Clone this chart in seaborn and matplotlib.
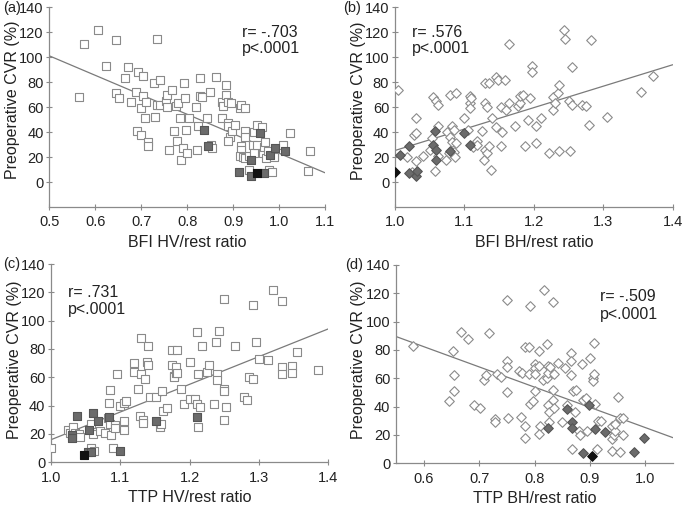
import matplotlib
matplotlib.use("Agg")
import matplotlib.pyplot as plt
import seaborn as sns
import pandas as pd

# panel (a): BFI HV/rest ratio vs preoperative CVR
a_open_x = [0.565, 0.575, 0.607, 0.623, 0.645, 0.645, 0.652, 0.665, 0.672, 0.688, 0.678, 0.693, 0.703,
            0.700, 0.705, 0.710, 0.708, 0.690, 0.700, 0.715, 0.715, 0.728, 0.735, 0.740, 0.735, 0.740,
            0.730, 0.755, 0.757, 0.757, 0.768, 0.775, 0.780, 0.772, 0.777, 0.760, 0.785, 0.787, 0.790,
            0.793, 0.795, 0.797, 0.800, 0.805, 0.820, 0.827, 0.828, 0.833, 0.823, 0.822, 0.843, 0.850,
            0.853, 0.855, 0.862, 0.875, 0.878, 0.885, 0.885, 0.890, 0.895, 0.875, 0.890, 0.890, 0.893,
            0.890, 0.897, 0.905, 0.915, 0.918, 0.925, 0.925, 0.925, 0.918, 0.918, 0.915, 0.922, 0.925,
            0.935, 0.935, 0.945, 0.943, 0.945, 0.953, 0.953, 0.963, 0.965, 0.968, 0.970, 0.972, 0.975,
            0.978, 0.985, 0.988, 0.990, 1.008, 1.023, 1.063, 1.068]
a_open_y = [68, 111, 122, 93, 114, 71, 67, 83, 92, 72, 64, 88, 85,
            59, 69, 64, 51, 41, 38, 32, 29, 79, 115, 82, 62, 62,
            52, 65, 60, 70, 74, 61, 63, 41, 33, 26, 51, 18, 27,
            79, 67, 42, 23, 51, 60, 83, 69, 68, 45, 26, 51, 72,
            30, 27, 84, 64, 61, 78, 70, 64, 63, 51, 47, 45, 36,
            33, 41, 46, 59, 62, 59, 41, 36, 29, 26, 21, 20, 19,
            21, 10, 40, 30, 23, 46, 30, 44, 23, 28, 32, 19, 25,
            10, 8, 21, 20, 30, 39, 9, 25]
a_gray_x = [0.837, 0.845, 0.913, 0.940, 0.940, 0.958, 0.967, 0.980, 0.992, 1.012]
a_gray_y = [42, 29, 8, 18, 5, 39, 7, 22, 27, 25]
a_black_x = [0.952]
a_black_y = [7]

# panel (b): BFI BH/rest ratio
b_open_x = [1.005, 1.018, 1.025, 1.028, 1.030, 1.030, 1.030, 1.040, 1.053, 1.055, 1.050, 1.058, 1.060,
            1.062, 1.062, 1.062, 1.075, 1.078, 1.073, 1.080, 1.080, 1.082, 1.083, 1.085, 1.088, 1.088,
            1.087, 1.085, 1.100, 1.105, 1.108, 1.108, 1.108, 1.110, 1.113, 1.118, 1.118, 1.125, 1.130,
            1.130, 1.135, 1.133, 1.130, 1.132, 1.128, 1.135, 1.138, 1.140, 1.145, 1.148, 1.145, 1.153,
            1.155, 1.153, 1.158, 1.160, 1.165, 1.165, 1.173, 1.178, 1.180, 1.180, 1.185, 1.188, 1.192,
            1.195, 1.198, 1.198, 1.203, 1.203, 1.210, 1.222, 1.228, 1.228, 1.230, 1.235, 1.237, 1.237,
            1.243, 1.245, 1.250, 1.255, 1.255, 1.252, 1.270, 1.275, 1.280, 1.283, 1.305, 1.355, 1.372]
b_open_y = [74, 20, 8, 38, 39, 51, 17, 21, 35, 68, 26, 9, 65,
            62, 45, 21, 40, 23, 18, 70, 36, 32, 45, 24, 71, 31,
            20, 42, 51, 42, 69, 63, 59, 67, 28, 33, 30, 41, 63,
            79, 79, 60, 26, 23, 18, 29, 10, 51, 84, 82, 44, 60,
            40, 29, 82, 58, 111, 63, 45, 61, 63, 69, 70, 29, 50,
            67, 93, 88, 45, 31, 51, 23, 68, 58, 63, 71, 78, 25,
            122, 115, 65, 92, 62, 25, 62, 61, 46, 114, 52, 72, 85]
b_gray_x = [1.008, 1.020, 1.020, 1.030, 1.032, 1.055, 1.058, 1.060, 1.060, 1.080, 1.100, 1.108]
b_gray_y = [22, 29, 7, 5, 9, 30, 41, 26, 18, 25, 39, 30]
b_black_x = [1.000]
b_black_y = [8]

# panel (c): TTP HV/rest ratio
c_open_x = [1.000, 1.025, 1.028, 1.032, 1.035, 1.040, 1.042, 1.058, 1.060, 1.058, 1.062, 1.070, 1.078,
            1.082, 1.083, 1.085, 1.085, 1.087, 1.090, 1.092, 1.093, 1.095, 1.100, 1.105, 1.108, 1.105,
            1.105, 1.120, 1.120, 1.125, 1.128, 1.130, 1.130, 1.132, 1.132, 1.135, 1.138, 1.140, 1.140,
            1.143, 1.152, 1.157, 1.158, 1.160, 1.162, 1.168, 1.175, 1.175, 1.177, 1.178, 1.180, 1.180,
            1.182, 1.182, 1.188, 1.192, 1.200, 1.200, 1.208, 1.210, 1.210, 1.212, 1.212, 1.215, 1.218,
            1.225, 1.228, 1.235, 1.238, 1.240, 1.240, 1.242, 1.250, 1.250, 1.250, 1.250, 1.253, 1.265,
            1.278, 1.283, 1.285, 1.292, 1.292, 1.295, 1.300, 1.313, 1.320, 1.333, 1.333, 1.333, 1.348,
            1.348, 1.355, 1.385]
c_open_y = [10, 23, 21, 25, 21, 20, 18, 27, 20, 10, 8, 22, 21,
            31, 42, 27, 51, 19, 10, 26, 24, 62, 40, 42, 43, 29,
            23, 70, 64, 52, 33, 88, 62, 30, 28, 59, 71, 69, 82,
            46, 46, 25, 27, 50, 36, 38, 79, 69, 61, 60, 63, 67,
            79, 63, 52, 41, 71, 45, 45, 92, 41, 62, 25, 39, 82,
            64, 69, 41, 85, 62, 58, 93, 115, 52, 50, 30, 39, 82,
            46, 44, 60, 111, 59, 85, 73, 72, 122, 114, 67, 62, 68,
            63, 78, 65]
c_gray_x = [1.030, 1.030, 1.038, 1.055, 1.060, 1.068, 1.083, 1.053, 1.058, 1.100, 1.152, 1.210]
c_gray_y = [19, 17, 33, 23, 35, 29, 32, 7, 7, 8, 29, 32]
c_black_x = [1.048]
c_black_y = [5]

# panel (d): TTP BH/rest ratio
d_open_x = [0.580, 0.645, 0.653, 0.655, 0.655, 0.667, 0.680, 0.690, 0.702, 0.708, 0.713, 0.718, 0.728,
            0.728, 0.733, 0.740, 0.750, 0.750, 0.750, 0.750, 0.752, 0.772, 0.775, 0.778, 0.782, 0.782,
            0.783, 0.790, 0.790, 0.792, 0.792, 0.797, 0.800, 0.800, 0.800, 0.800, 0.808, 0.808, 0.810,
            0.808, 0.815, 0.818, 0.822, 0.823, 0.825, 0.825, 0.825, 0.827, 0.827, 0.828, 0.833, 0.835,
            0.833, 0.833, 0.835, 0.842, 0.850, 0.855, 0.858, 0.865, 0.865, 0.865, 0.870, 0.873, 0.875,
            0.867, 0.880, 0.882, 0.885, 0.888, 0.893, 0.895, 0.900, 0.905, 0.905, 0.907, 0.908, 0.910,
            0.912, 0.915, 0.920, 0.940, 0.940, 0.940, 0.943, 0.945, 0.945, 0.950, 0.955, 0.955, 0.960,
            0.960]
d_open_y = [83, 44, 79, 62, 51, 93, 88, 41, 39, 59, 62, 92, 31,
            29, 63, 61, 115, 72, 68, 50, 32, 65, 33, 64, 82, 26,
            18, 82, 63, 111, 42, 44, 70, 67, 63, 51, 79, 69, 26,
            21, 59, 122, 60, 84, 69, 64, 41, 36, 29, 68, 114, 63,
            52, 45, 39, 71, 29, 67, 41, 78, 72, 62, 51, 36, 52,
            10, 23, 20, 70, 45, 46, 23, 74, 60, 58, 85, 63, 42,
            10, 30, 30, 26, 17, 9, 20, 23, 28, 47, 32, 8, 32,
            20]
d_gray_x = [0.825, 0.858, 0.868, 0.867, 0.888, 0.898, 0.910, 0.928, 0.980, 0.998]
d_gray_y = [25, 38, 29, 25, 7, 41, 24, 22, 8, 18]
d_black_x = [0.903]
d_black_y = [5]

panel_tags = ["(a)", "(b)", "(c)", "(d)"]
x_labels = ["BFI HV/rest ratio", "BFI BH/rest ratio", "TTP HV/rest ratio", "TTP BH/rest ratio"]
r_texts = ["r= -.703", "r= .576", "r= .731", "r= -.509"]
p_text = "p<.0001"

sns.set_style("ticks")
plt.rcParams["font.family"] = ["Liberation Sans", "DejaVu Sans"]

GRAY = "#8a8a8a"

fig = plt.figure(figsize=(6.83, 5.05), dpi=100)

panels = [
    dict(rect=[0.0722, 0.590, 0.4036, 0.3955], xlim=(0.5, 1.1), ylim=(-20, 140),
         xticks=[0.5, 0.6, 0.7, 0.8, 0.9, 1.0, 1.1], marker="s",
         open=(a_open_x, a_open_y), gray=(a_gray_x, a_gray_y), black=(a_black_x, a_black_y),
         txt=(0.919, 120, 107), tag=(3, 8), ylab=(-0.105, 0.535)),
    dict(rect=[0.578, 0.590, 0.407, 0.3955], xlim=(1.0, 1.4), ylim=(-20, 140),
         xticks=[1.0, 1.1, 1.2, 1.3, 1.4], marker="D",
         open=(b_open_x, b_open_y), gray=(b_gray_x, b_gray_y), black=(b_black_x, b_black_y),
         txt=(1.025, 120, 107), tag=(343, 8), ylab=(-0.104, 0.53)),
    dict(rect=[0.0747, 0.0846, 0.406, 0.3926], xlim=(1.0, 1.4), ylim=(0, 140),
         xticks=[1.0, 1.1, 1.2, 1.3, 1.4], marker="s",
         open=(c_open_x, c_open_y), gray=(c_gray_x, c_gray_y), black=(c_black_x, c_black_y),
         txt=(1.025, 120, 108), tag=(3, 264), ylab=(-0.105, 0.515)),
    dict(rect=[0.5798, 0.0826, 0.4056, 0.3927], xlim=(0.55, 1.05), ylim=(0, 140),
         xticks=[0.6, 0.7, 0.8, 0.9, 1.0], marker="D",
         open=(d_open_x, d_open_y), gray=(d_gray_x, d_gray_y), black=(d_black_x, d_black_y),
         txt=(0.918, 118, 105), tag=(345, 265), ylab=(-0.108, 0.52)),
]

for i, p in enumerate(panels):
    ax = fig.add_axes(p["rect"])
    ax.set_xlim(*p["xlim"])
    ax.set_ylim(*p["ylim"])

    all_x = p["open"][0] + p["gray"][0] + p["black"][0]
    all_y = p["open"][1] + p["gray"][1] + p["black"][1]
    df = pd.DataFrame({"x": all_x, "y": all_y})

    # fitted line across the full axis width
    sns.regplot(data=df, x="x", y="y", ax=ax, scatter=False, ci=None, truncate=False,
                line_kws=dict(color="#7a7a7a", lw=0.9))

    msize = 26 if p["marker"] == "s" else 24
    sns.scatterplot(x=p["open"][0], y=p["open"][1], ax=ax, marker=p["marker"], s=msize,
                    facecolor="white", edgecolor=GRAY, linewidth=0.8, zorder=3)
    sns.scatterplot(x=p["gray"][0], y=p["gray"][1], ax=ax, marker=p["marker"], s=msize,
                    color="#6b6b6b", edgecolor="#555555", linewidth=0.8, zorder=4)
    sns.scatterplot(x=p["black"][0], y=p["black"][1], ax=ax, marker=p["marker"], s=msize,
                    color="#111111", edgecolor="#111111", linewidth=0.8, zorder=5)

    ax.set_xlim(*p["xlim"])
    ax.set_ylim(*p["ylim"])
    ax.set_xticks(p["xticks"])
    ax.set_xticklabels([f"{t:.1f}" for t in p["xticks"]])
    ax.set_yticks(range(0, 141, 20))
    ax.set_xlabel(x_labels[i], fontsize=11.5, color="#222222", labelpad=4)
    ax.set_ylabel("Preoperative CVR (%)", fontsize=11.5, color="#222222")
    ax.yaxis.set_label_coords(*p["ylab"])
    ax.tick_params(axis="both", labelsize=10.5, colors="#222222", direction="inout",
                   length=4, width=0.8, color=GRAY, pad=2)
    ax.tick_params(axis="x", pad=4)
    sns.despine(ax=ax)
    for side in ["left", "bottom"]:
        ax.spines[side].set_color(GRAY)
        ax.spines[side].set_linewidth(0.9)

    tx, ty1, ty2 = p["txt"]
    ax.text(tx, ty1, r_texts[i], fontsize=11.5, color="#222222", va="center", ha="left")
    ax.text(tx, ty2, p_text, fontsize=11.5, color="#222222", va="center", ha="left")

    fig.text(p["tag"][0] / 683, 1 - p["tag"][1] / 505, panel_tags[i], fontsize=10.5,
             color="#222222", va="center", ha="left")

fig.savefig("out.png", dpi=100)
